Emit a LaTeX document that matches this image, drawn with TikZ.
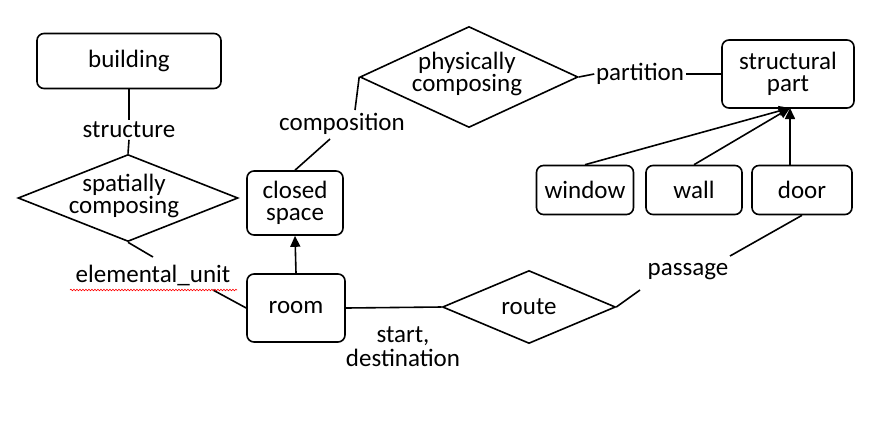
\documentclass[tikz,border=0pt]{standalone}
\usepackage{fontspec}
\setmainfont{Carlito}
\usetikzlibrary{shapes.geometric,arrows.meta,decorations.pathmorphing}
\newcommand{\bigf}{\fontsize{25}{24}\selectfont}
\newcommand{\tightf}{\fontsize{25}{22}\selectfont}
\begin{document}
\begin{tikzpicture}[x=1pt,y=-1pt,line width=1.6pt,
  ent/.style={draw,rounded corners=7pt,align=center,inner sep=0pt,font=\bigf},
  rel/.style={draw,diamond,inner sep=0pt,align=center,font=\bigf},
  lab/.style={inner sep=1pt,align=center,font=\bigf},
  arr/.style={-{Triangle[length=11pt,width=10pt]}}]
\useasboundingbox (0,0) rectangle (890,424);
\node[ent,minimum width=184pt,minimum height=55pt] (building) at (129,61) {building};
\node[rel,minimum width=220pt,minimum height=87pt] (spat) at (128,198) {};
\node[font=\tightf,align=center] (spatt) at (124,196) {spatially\\composing};
\node[lab] (structure) at (129,130) {structure};
\node[ent,minimum width=96pt,minimum height=64pt,font=\tightf] (closed) at (295,203) {closed\\space};
\node[ent,minimum width=98pt,minimum height=68pt] (room) at (296,308) {room};
\node[lab] (elem) at (153,275) {elemental\_unit};
\node[rel,minimum width=218pt,minimum height=101pt] (phys) at (469,77) {};
\node[font=\tightf,align=center] (physt) at (467,74) {physically\\composing};
\node[lab] (comp) at (342,124) {composition};
\node[lab] (part) at (640,74) {partition};
\node[ent,minimum width=132pt,minimum height=68pt,font=\tightf] (sp) at (788,74) {structural\\part};
\node[ent,minimum width=97pt,minimum height=49pt] (window) at (585,190) {window};
\node[ent,minimum width=96pt,minimum height=49pt] (wall) at (694,190) {wall};
\node[ent,minimum width=100pt,minimum height=49pt] (door) at (802,190) {door};
\node[rel,minimum width=173pt,minimum height=73pt] (route) at (529,307) {route};
\node[lab] (sd) at (403,347) {start,\\destination};
\node[lab] (pass) at (688,272) {passage};
\coordinate (spt) at (790,108);
\draw (building.south) -- (structure.north);
\draw (structure.south) -- (spat.north);
\draw (spat.south) -- (153,257);
\draw (213,290) -- (room.west);
\draw[red,line width=0.6pt,decorate,decoration={snake,amplitude=0.8pt,segment length=3pt}] (70,290) -- (237,290);
\draw[arr] (room.north) -- (closed.south);
\draw (closed.north) -- (330,139);
\draw (355,110) -- (phys.west);
\draw (phys.east) -- (part.west);
\draw (part.east) -- (sp.west);
\draw[arr] (window.north) -- (spt);
\draw[arr] (wall.north) -- (spt);
\draw[arr] (door.north -| spt) -- (spt);
\draw (room.east) -- (route.west);
\draw (route.east) -- (640,290);
\draw (730,256) -- (door.south);
\end{tikzpicture}
\end{document}
